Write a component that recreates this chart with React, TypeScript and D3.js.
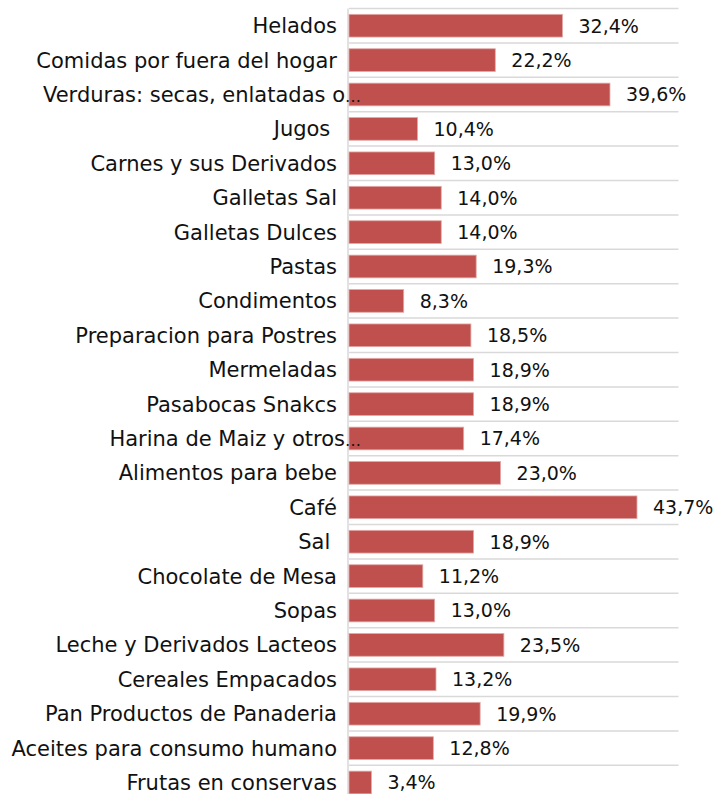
import React from 'react';
import * as d3 from 'd3';

// category labels, top to bottom (trailing spaces kept as in the source sheet)
const categories = [
  'Helados',
  'Comidas por fuera del hogar',
  'Verduras: secas, enlatadas o…',
  'Jugos ',
  'Carnes y sus Derivados',
  'Galletas Sal',
  'Galletas Dulces',
  'Pastas',
  'Condimentos',
  'Preparacion para Postres',
  'Mermeladas',
  'Pasabocas Snakcs',
  'Harina de Maiz y otros…',
  'Alimentos para bebe',
  'Café',
  'Sal ',
  'Chocolate de Mesa',
  'Sopas',
  'Leche y Derivados Lacteos',
  'Cereales Empacados',
  'Pan Productos de Panaderia',
  'Aceites para consumo humano',
  'Frutas en conservas',
];

const values = [
  32.4, 22.2, 39.6, 10.4, 13.0, 14.0, 14.0, 19.3, 8.3, 18.5, 18.9, 18.9, 17.4,
  23.0, 43.7, 18.9, 11.2, 13.0, 23.5, 13.2, 19.9, 12.8, 3.4,
];

const xDomain = [0, 50];

const width = 716;
const height = 794;
const font = '"DejaVu Sans", sans-serif';

const App = () => {
  const x = d3.scaleLinear().domain(xDomain).range([349, 678.5]);
  const y = d3
    .scaleBand()
    .domain(categories)
    .range([8.5, 8.5 + categories.length * 34.4])
    .paddingInner(0.34)
    .paddingOuter(0.17);

  const step = y.step();
  const top = y.range()[0];
  const gridYs = d3.range(categories.length + 1).map((i) => top + i * step);
  const fmt = (v) => v.toFixed(1).replace('.', ',') + '%';

  return (
    <svg
      width={width}
      height={height}
      style={{ position: 'absolute', left: 0, top: 0, background: '#fff' }}
    >
      {/* horizontal gridlines between categories */}
      {gridYs.map((gy, i) => (
        <line
          key={i}
          x1={x(0)}
          x2={x(xDomain[1])}
          y1={gy}
          y2={gy}
          stroke="#d9d9d9"
          strokeWidth={1.5}
        />
      ))}
      {/* vertical axis line */}
      <line x1={348} x2={348} y1={top} y2={height} stroke="#d9d9d9" strokeWidth={1.5} />

      {categories.map((c, i) => {
        const cy = y(c) + y.bandwidth() / 2;
        const truncated = c.endsWith('…');
        return (
          <g key={c}>
            <rect
              x={x(0)}
              y={y(c)}
              width={x(values[i]) - x(0)}
              height={y.bandwidth()}
              fill="#c0504d"
              stroke="#e2a9a7"
              strokeWidth={0.8}
            />
            <text
              x={truncated ? 361 : 337}
              y={cy}
              dy="0.36em"
              textAnchor="end"
              fontFamily={font}
              fontSize={21}
              fill="#111"
              xmlSpace="preserve"
              style={{ whiteSpace: 'pre' }}
            >
              {truncated ? (
                <>
                  <tspan>{c.slice(0, -1)}</tspan>
                  <tspan fontSize={16}>…</tspan>
                </>
              ) : (
                c
              )}
            </text>
            <text
              x={x(values[i]) + 16}
              y={cy}
              dy="0.36em"
              fontFamily={font}
              fontSize={19}
              fill="#111"
            >
              {fmt(values[i])}
            </text>
          </g>
        );
      })}
    </svg>
  );
};

export default App;
